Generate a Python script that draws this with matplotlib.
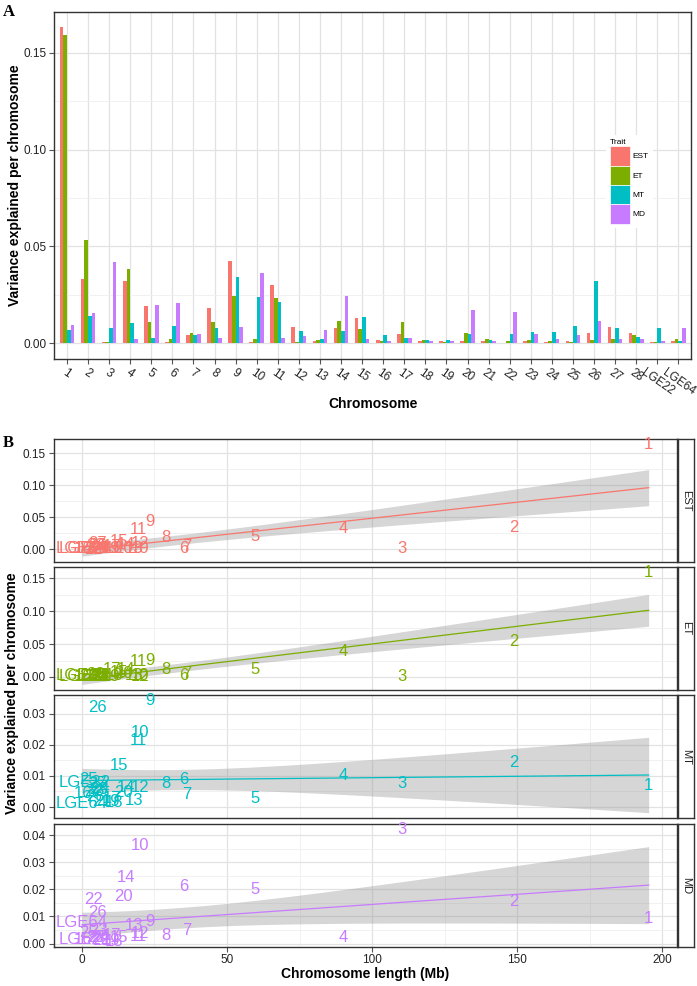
import numpy as np
import matplotlib.pyplot as plt
from matplotlib.patches import Patch
from matplotlib.ticker import MultipleLocator, FormatStrFormatter

plt.rcParams["font.family"] = ["Liberation Sans", "DejaVu Sans"]

chromosomes = [str(i) for i in range(1, 29)] + ["LGE22", "LGE64"]
traits = ["EST", "ET", "MT", "MD"]
colors = ["#F8766D", "#7CAE00", "#00BFC4", "#C77CFF"]

# chromosome length in Mb
length_mb = [195.3, 148.8, 110.4, 90.2, 59.6, 35.0, 36.2, 28.8, 23.4, 19.9,
             19.4, 19.9, 17.8, 15.2, 12.7, 0.5, 10.5, 11.2, 10.0, 14.3,
             6.8, 4.1, 5.7, 6.3, 2.2, 5.3, 5.2, 4.7, 1.0, 0.02]

# variance explained per chromosome
est = [0.163, 0.0333, 0.0007, 0.0319, 0.0193, 0.0007, 0.0043, 0.0183, 0.0426, 0.0007,
       0.0303, 0.0083, 0.0010, 0.0079, 0.0128, 0.0019, 0.0045, 0.0014, 0.0012, 0.0014,
       0.0009, 0.0003, 0.0014, 0.0005, 0.0009, 0.0052, 0.0083, 0.0053, 0.0005, 0.0010]
et = [0.159, 0.0534, 0.0007, 0.0384, 0.0109, 0.0022, 0.0053, 0.0109, 0.0243, 0.0022,
      0.0233, 0.0007, 0.0016, 0.0114, 0.0072, 0.0009, 0.0112, 0.0017, 0.0007, 0.0053,
      0.0022, 0.0009, 0.0016, 0.0010, 0.0005, 0.0016, 0.0024, 0.0043, 0.0005, 0.0024]
mt = [0.0069, 0.0143, 0.0076, 0.0103, 0.0026, 0.0090, 0.0040, 0.0076, 0.0343, 0.0240,
      0.0214, 0.0062, 0.0021, 0.0062, 0.0134, 0.0043, 0.0028, 0.0016, 0.0017, 0.0047,
      0.0017, 0.0050, 0.0057, 0.0060, 0.0090, 0.0322, 0.0076, 0.0034, 0.0079, 0.0012]
md = [0.0093, 0.0155, 0.0420, 0.0022, 0.0198, 0.0209, 0.0047, 0.0028, 0.0083, 0.0360,
      0.0026, 0.0036, 0.0066, 0.0243, 0.0022, 0.0014, 0.0029, 0.0009, 0.0010, 0.0172,
      0.0010, 0.0162, 0.0047, 0.0024, 0.0041, 0.0114, 0.0021, 0.0022, 0.0014, 0.0076]

series = [est, et, mt, md]
T_CRIT = 2.048  # t(0.975, df=28)

W, H = 697, 986
GRID = "#e2e2e2"
GRID_MINOR = "#efefef"
FRAME = "#333333"
TXT = "#222222"


def box(l, t, r, b):
    return [l / W, 1 - b / H, (r - l) / W, (b - t) / H]


def expand(lo, hi, f=0.05):
    pad = (hi - lo) * f
    return lo - pad, hi + pad


def lm_band(xv, yv, n_pts=80):
    xv = np.asarray(xv)
    yv = np.asarray(yv)
    slope, intercept = np.polyfit(xv, yv, 1)
    resid = yv - (intercept + slope * xv)
    n = len(xv)
    s = np.sqrt(np.sum(resid ** 2) / (n - 2))
    xs = np.linspace(xv.min(), xv.max(), n_pts)
    fit = intercept + slope * xs
    se = s * np.sqrt(1 / n + (xs - xv.mean()) ** 2 / np.sum((xv - xv.mean()) ** 2))
    return xs, fit, fit - T_CRIT * se, fit + T_CRIT * se


def style_axes(ax):
    for sp in ax.spines.values():
        sp.set_color(FRAME)
        sp.set_linewidth(1.0)
    ax.tick_params(which="major", length=3.5, width=0.8, color="#555555",
                   labelsize=8.5, labelcolor=TXT, pad=2)
    ax.tick_params(which="minor", length=0)
    ax.grid(which="major", color=GRID, lw=0.9)
    ax.grid(which="minor", color=GRID_MINOR, lw=0.6)
    ax.set_axisbelow(True)


fig = plt.figure(figsize=(W / 100, H / 100), dpi=100)

# ---------------- panel A ----------------
axA = fig.add_axes(box(54.3, 11.7, 691, 359))
x = np.arange(len(chromosomes))
bw = 0.175
for i, (name, vals, col) in enumerate(zip(traits, series, colors)):
    axA.bar(x + (i - 1.5) * bw, vals, width=bw, color=col, label=name, zorder=2)

axA.set_xlim(-0.6, len(chromosomes) - 0.4)
axA.set_ylim(*expand(0, max(max(s) for s in series)))
axA.yaxis.set_major_locator(MultipleLocator(0.05))
axA.yaxis.set_minor_locator(MultipleLocator(0.025))
axA.yaxis.set_major_formatter(FormatStrFormatter("%.2f"))
axA.set_xticks(x)
axA.set_xticklabels(chromosomes, rotation=-35, ha="center", va="top")
style_axes(axA)
axA.grid(which="minor", axis="x", visible=False)

handles = [Patch(facecolor=c, edgecolor="white", lw=0.5, label=t) for t, c in zip(traits, colors)]
axA.legend(handles=handles, title="Trait", fontsize=6, title_fontsize=6,
           loc="upper left", bbox_to_anchor=(606 / W, 1 - 135 / H),
           bbox_transform=fig.transFigure, frameon=True, facecolor="white",
           edgecolor="none", framealpha=1, fancybox=False,
           handlelength=2.4, handleheight=3.2, labelspacing=0,
           handletextpad=0.3, borderpad=0.5, borderaxespad=0, alignment="left")

fig.text(373 / W, 1 - 404 / H, "Chromosome", ha="center", va="center",
         fontsize=10, fontweight="bold")
fig.text(15 / W, 1 - 185 / H, "Variance explained per chromosome", rotation=90,
         ha="center", va="center", fontsize=10, fontweight="bold")
fig.text(3 / W, 1 - 12 / H, "A", family="Liberation Serif", fontweight="bold",
         fontsize=12, va="center", ha="left")

# ---------------- panel B ----------------
facets = [(439.3, 561.7), (566.7, 690), (695, 818.3), (824, 946.7)]
steps = [0.05, 0.05, 0.01, 0.01]
xlim = expand(min(length_mb), max(length_mb))

for k, (name, vals, col) in enumerate(zip(traits, series, colors)):
    top, bot = facets[k]
    ax = fig.add_axes(box(53.6, top, 677, bot))
    xs, fit, lo, hi = lm_band(length_mb, vals)
    ax.fill_between(xs, lo, hi, color="#999999", alpha=0.4, lw=0, zorder=2)
    ax.plot(xs, fit, color=col, lw=0.9, zorder=3)
    for lab, xv, yv in zip(chromosomes, length_mb, vals):
        ax.text(xv, yv, lab, color=col, fontsize=12, ha="center", va="center", zorder=4)
    ax.set_xlim(*xlim)
    ax.set_ylim(*expand(min(min(vals), lo.min()), max(max(vals), hi.max())))
    ax.xaxis.set_major_locator(MultipleLocator(50))
    ax.xaxis.set_minor_locator(MultipleLocator(25))
    ax.yaxis.set_major_locator(MultipleLocator(steps[k]))
    ax.yaxis.set_minor_locator(MultipleLocator(steps[k] / 2))
    ax.yaxis.set_major_formatter(FormatStrFormatter("%.2f"))
    style_axes(ax)
    if k < 3:
        ax.tick_params(axis="x", which="both", bottom=False, labelbottom=False)

    strip = fig.add_axes(box(678, top, 693.5, bot))
    strip.set_xticks([])
    strip.set_yticks([])
    strip.set_facecolor("white")
    for sp in strip.spines.values():
        sp.set_color(FRAME)
        sp.set_linewidth(1.0)
    strip.text(0.5, 0.5, name, rotation=-90, ha="center", va="center",
               fontsize=8, color=TXT, transform=strip.transAxes)

fig.text(365 / W, 1 - 974 / H, "Chromosome length (Mb)", ha="center", va="center",
         fontsize=10, fontweight="bold")
fig.text(12 / W, 1 - 693 / H, "Variance explained per chromosome", rotation=90,
         ha="center", va="center", fontsize=10, fontweight="bold")
fig.text(3 / W, 1 - 443 / H, "B", family="Liberation Serif", fontweight="bold",
         fontsize=12, va="center", ha="left")

fig.savefig("out.png", dpi=100, facecolor="white")
